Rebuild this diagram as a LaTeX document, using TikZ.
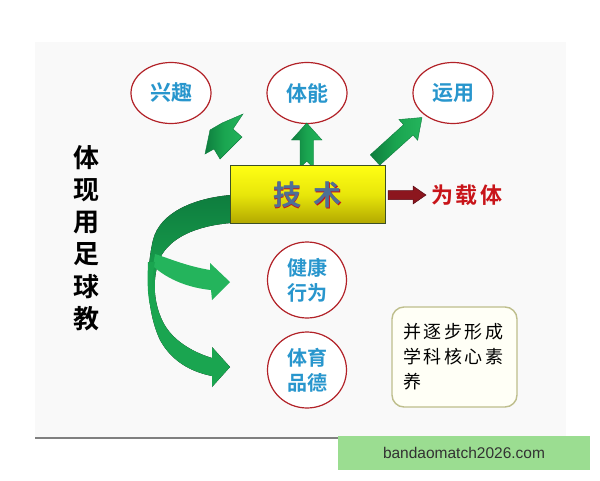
\documentclass[tikz,border=0pt]{standalone}
\usepackage{fontspec}
\newfontfamily\cjk{Noto Sans CJK SC}[BoldFont={Noto Sans CJK SC Bold}]
\newfontfamily\wmfont{Liberation Sans}
\usetikzlibrary{shapes.geometric}
\definecolor{slidebg}{RGB}{249,249,249}
\definecolor{ringred}{RGB}{178,34,40}
\definecolor{wordblue}{RGB}{40,150,205}
\definecolor{darkgreen}{RGB}{14,125,62}
\definecolor{midgreen}{RGB}{26,165,80}
\definecolor{lightgreen}{RGB}{36,180,92}
\definecolor{inkred}{RGB}{200,20,25}
\definecolor{barred}{RGB}{140,22,30}
\definecolor{boxline}{RGB}{190,190,140}
\definecolor{markgreen}{RGB}{155,221,145}
\newcommand{\chgap}{\hspace{2.5pt}}

\begin{document}
\begin{tikzpicture}[x=1pt,y=1pt,yscale=-1,xscale=1,
  bubble/.style={ellipse,draw=ringred,line width=1.2pt,fill=white,inner sep=0pt,
    minimum width=80,minimum height=61,text=wordblue,align=center,
    font=\cjk\bfseries\fontsize{21}{25}\selectfont},
  roundbubble/.style={bubble,minimum width=79,minimum height=76,
    font=\cjk\bfseries\fontsize{20}{25}\selectfont},
  greenarrow/.style={draw=darkgreen,line width=0.4pt,left color=darkgreen,right color=lightgreen,middle color=midgreen},
  ink/.style={font=\cjk\bfseries\fontsize{#1}{#1}\selectfont,inner sep=0pt}]
\useasboundingbox (0,0) rectangle (600,480);

%Shape: Rectangle (slide)
\fill [slidebg] (35,42) rectangle (566,438);
%Straight Lines
\draw [color={rgb, 255:red, 128; green, 128; blue, 128 }, line width=2pt] (35,438) -- (566,438);

%Shape: Ellipse
\node [bubble] (xingqu) at (171,93) {兴趣};
%Shape: Ellipse
\node [bubble] (tineng) at (307,93) {体能};
%Shape: Ellipse
\node [bubble] (yunyong) at (453,93) {运用};
%Shape: Ellipse
\node [roundbubble] (jiankang) at (307,280) {健康\\行为};
%Shape: Ellipse
\node [roundbubble] (pinde) at (307,370) {体育\\品德};

%Shape: Arrow (to xingqu)
\draw [greenarrow] (243,114) -- (222,123) -- (210,130) -- (205,154) -- (214,149) -- (220,159) -- (242,137) -- (233,129) -- cycle;
%Shape: Arrow (to tineng)
\draw [greenarrow] (306.7,123) -- (322,140) -- (313.5,140) -- (313.5,168) -- (306.7,161) -- (300,168) -- (300,140) -- (291.5,140) -- cycle;
%Shape: Arrow (to yunyong)
\draw [greenarrow] (370.3,154.8) -- (403.6,124.7) -- (398.9,119.5) -- (422,117.5) -- (417.7,140.3) -- (413,135.1) -- (379.7,165.2) -- cycle;

%Curve Lines (ribbon to pinde)
\fill [top color=darkgreen,bottom color=midgreen,middle color=midgreen] (231,195) .. controls (195,198) and (160,212) .. (153,240) .. controls (146,270) and (146,310) .. (160,340) .. controls (172,362) and (192,372) .. (212,376) -- (212,387) -- (230,367) -- (212,347) -- (212,358) .. controls (192,352) and (172,340) .. (163,322) .. controls (152,300) and (153,275) .. (160,258) .. controls (170,238) and (195,226) .. (231,223) -- cycle;
%Curve Lines (branch to jiankang)
\fill [lightgreen] (155,254) .. controls (168,258) and (186,266) .. (210,270) -- (210,263) -- (230,282) -- (212,300) -- (211,290) .. controls (190,288) and (168,280) .. (153,266) -- cycle;
\fill [midgreen] (148,262) .. controls (147,290) and (148,300) .. (152,312) -- (155,305) .. controls (151,290) and (152,275) .. (155,262) -- cycle;

%Shape: Rectangle
\node [draw={rgb, 255:red, 60; green, 80; blue, 40 }, line width=0.8pt, top color={rgb, 255:red, 255; green, 255; blue, 20 }, bottom color={rgb, 255:red, 178; green, 168; blue, 0 }, middle color={rgb, 255:red, 232; green, 230; blue, 10 }, minimum width=155, minimum height=58, inner sep=0pt] (jishu) at (307.5,194.5) {};
% Text Node
\node [ink=28, text=inkred] (jishushade) at ([shift={(0.9,0.9)}]jishu.center) {技\hspace{13pt}术};
% Text Node
\node [ink=28, text={rgb, 255:red, 78; green, 112; blue, 150 }] (jishutext) at (jishu.center) {技\hspace{13pt}术};

% Text Node
\node [ink=22, text=inkred, anchor=west] (zaiti) at (431,195) {为\chgap 载\chgap 体};
%Shape: Arrow
\draw [draw={rgb, 255:red, 90; green, 10; blue, 20 }, fill=barred, line width=0.5pt] (388,190.5) -- (413,190.5) -- (413,186) -- (426,195) -- (413,204) -- (413,199.5) -- (388,199.5) -- cycle;

% Text Node
\node [ink=26, align=center, font=\cjk\bfseries\fontsize{26}{32.3}\selectfont] (tixian) at (86,238) {体\\现\\用\\足\\球\\教};

%Shape: Rounded Rect
\node [draw=boxline, line width=1.4pt, fill={rgb, 255:red, 255; green, 255; blue, 246 }, rounded corners=12pt, minimum width=125, minimum height=100, inner sep=0pt] (suyang) at (454.5,357) {};
% Text Node
\node [align=left, inner sep=0pt, font=\cjk\fontsize{18}{25}\selectfont, anchor=west] (suyangtext) at (403,357) {并\chgap 逐\chgap 步\chgap 形\chgap 成\\学\chgap 科\chgap 核\chgap 心\chgap 素\\养};

%Shape: Rectangle (watermark)
\node [fill=markgreen, minimum width=252, minimum height=34, inner sep=0pt, text={rgb, 255:red, 50; green, 50; blue, 50 }, font=\wmfont\fontsize{15.5}{18}\selectfont] (mark) at (464,453) {bandaomatch2026.com};

\end{tikzpicture}
\end{document}
